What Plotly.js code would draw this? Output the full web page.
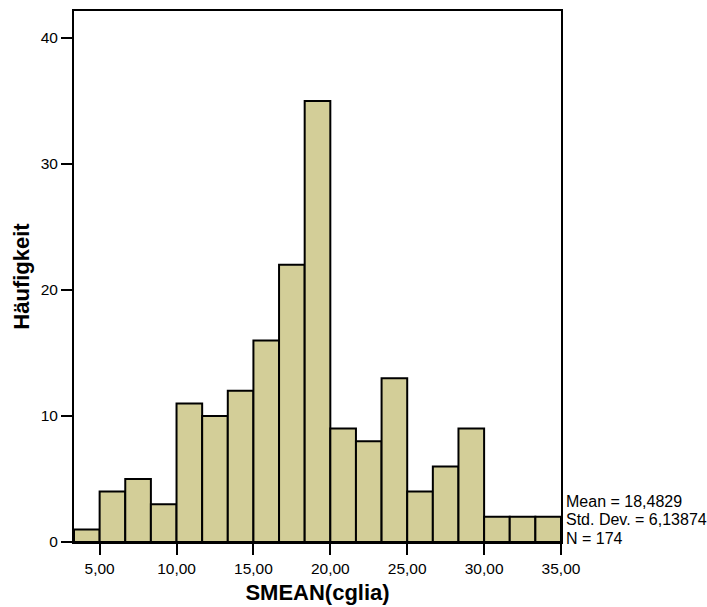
<!DOCTYPE html>
<html>
<head>
<meta charset="utf-8">
<script src="https://cdn.plot.ly/plotly-3.0.1.min.js"></script>
<style>html,body{margin:0;padding:0;background:#fff;}</style>
</head>
<body>
<div id="chart" style="width:707px;height:607px;"></div>
<script>
const binStart = 10/3;
const binWidth = 5/3;
const counts = [1, 4, 5, 3, 11, 10, 12, 16, 22, 35, 9, 8, 13, 4, 6, 9, 2, 2, 2];
const xTickVals = [5, 10, 15, 20, 25, 30, 35];
const xTickText = ["5,00", "10,00", "15,00", "20,00", "25,00", "30,00", "35,00"];
const yTickVals = [0, 10, 20, 30, 40];
const statsLines = ["Mean = 18,4829", "Std. Dev. = 6,13874", "N = 174"];

const centers = counts.map((_, i) => binStart + binWidth * (i + 0.5));

const trace = {
  type: 'bar',
  x: centers,
  y: counts,
  width: counts.map(() => binWidth),
  marker: {color: '#D3CE98', line: {color: '#000', width: 2}},
  hoverinfo: 'x+y'
};

const font = {family: 'Liberation Sans, Arial, sans-serif', color: '#000'};
const statsY = [0.0772, 0.0433, 0.0075];
const annotations = statsLines.map((t, i) => ({
  text: t, xref: 'paper', yref: 'paper', x: 1.007, y: statsY[i],
  xanchor: 'left', yanchor: 'middle', showarrow: false,
  font: Object.assign({}, font, {size: 16})
}));

const layout = {
  width: 707, height: 607,
  margin: {l: 74, r: 146, t: 11, b: 65},
  paper_bgcolor: '#fff', plot_bgcolor: '#fff',
  showlegend: false,
  font: font,
  xaxis: {
    range: [binStart, 35], tickvals: xTickVals, ticktext: xTickText,
    ticks: 'outside', ticklen: 11, tickwidth: 2, tickcolor: '#000',
    showline: true, linecolor: '#000', linewidth: 2, mirror: true,
    showgrid: false, zeroline: false,
    tickfont: Object.assign({}, font, {size: 15.5}),
    title: {text: 'SMEAN(cglia)', font: Object.assign({}, font, {size: 22, weight: 'bold'}), standoff: 9}
  },
  yaxis: {
    range: [0, 42.14], tickvals: yTickVals,
    ticks: 'outside', ticklen: 11, tickwidth: 2, tickcolor: '#000',
    showline: true, linecolor: '#000', linewidth: 2, mirror: true,
    showgrid: false, zeroline: false,
    tickfont: Object.assign({}, font, {size: 15.5}),
    title: {text: 'Häufigkeit', font: Object.assign({}, font, {size: 22, weight: 'bold'}), standoff: 5}
  },
  bargap: 0,
  annotations: annotations
};

Plotly.newPlot('chart', [trace], layout, {displayModeBar: false, staticPlot: true});
</script>
</body>
</html>
